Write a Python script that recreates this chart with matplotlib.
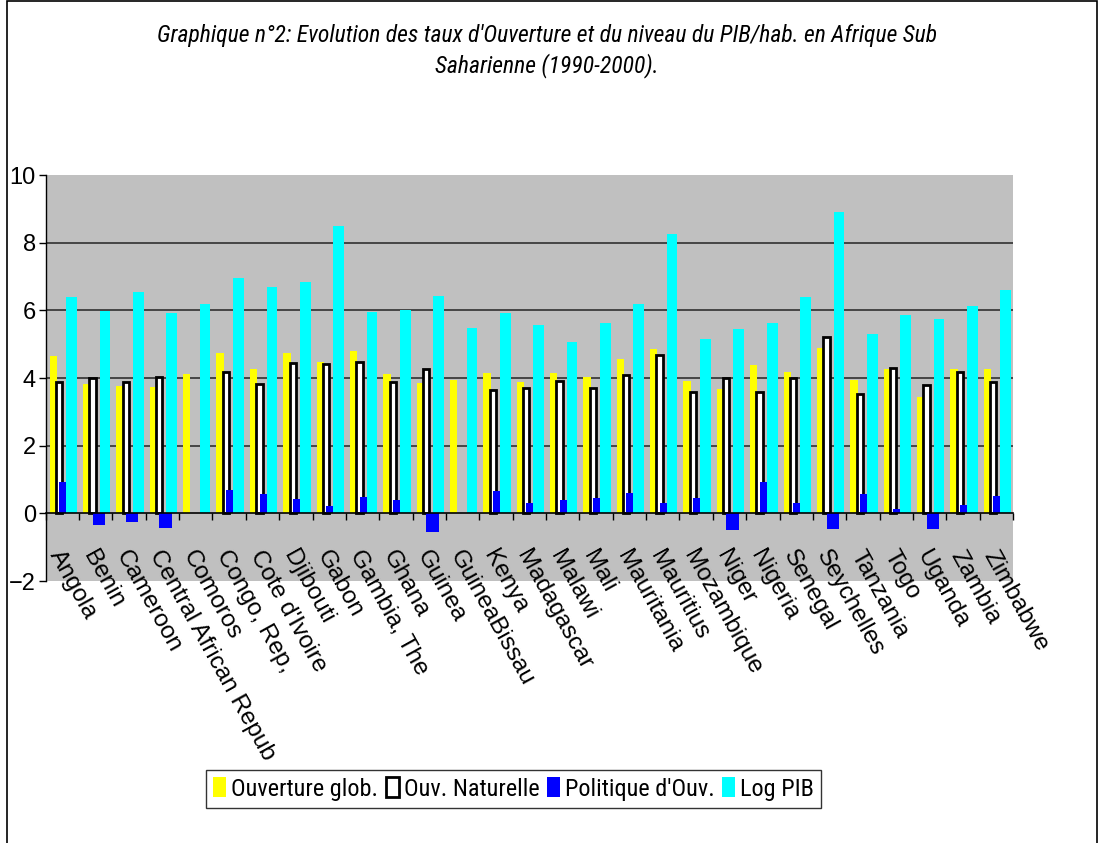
import numpy as np
import matplotlib
matplotlib.use("Agg")
import matplotlib.pyplot as plt
from matplotlib import font_manager
from matplotlib.patches import Rectangle
import matplotlib.transforms as mtransforms

categories = ["Angola", "Benin", "Cameroon", "Central African Repub", "Comoros",
              "Congo, Rep,", "Cote d'Ivoire", "Djibouti", "Gabon", "Gambia, The",
              "Ghana", "Guinea", "GuineaBissau", "Kenya", "Madagascar", "Malawi",
              "Mali", "Mauritania", "Mauritius", "Mozambique", "Niger", "Nigeria",
              "Senegal", "Seychelles", "Tanzania", "Togo", "Uganda", "Zambia",
              "Zimbabwe"]
nan = np.nan
ouverture_glob = [4.66, 3.81, 3.75, 3.73, 4.13, 4.75, 4.28, 4.73, 4.48, 4.81,
                  4.13, 3.86, 3.94, 4.16, 3.87, 4.16, 4.03, 4.57, 4.87, 3.92,
                  3.67, 4.39, 4.19, 4.88, 3.94, 4.26, 3.45, 4.28, 4.26]
ouv_naturelle = [3.87, 4.00, 3.87, 4.02, nan, 4.19, 3.83, 4.45, 4.41, 4.46,
                 3.87, 4.27, nan, 3.64, 3.71, 3.92, 3.70, 4.10, 4.68, 3.60,
                 3.99, 3.58, 3.99, 5.20, 3.52, 4.29, 3.78, 4.17, 3.87]
politique_ouv = [0.92, -0.35, -0.26, -0.43, nan, 0.68, 0.56, 0.41, 0.21, 0.47,
                 0.38, -0.55, nan, 0.65, 0.32, 0.38, 0.46, 0.59, 0.30, 0.45,
                 -0.49, 0.94, 0.32, -0.46, 0.56, 0.12, -0.46, 0.24, 0.50]
log_pib = [6.38, 5.99, 6.55, 5.91, 6.20, 6.95, 6.68, 6.83, 8.49, 5.96,
           6.02, 6.42, 5.49, 5.91, 5.58, 5.07, 5.63, 6.20, 8.26, 5.15,
           5.44, 5.63, 6.40, 8.92, 5.29, 5.87, 5.75, 6.13, 6.60]
series_names = ["Ouverture glob.", "Ouv. Naturelle", "Politique d'Ouv.", "Log PIB"]
yticks = [-2, 0, 2, 4, 6, 8, 10]
title = ("Graphique n°2: Evolution des taux d'Ouverture et du niveau du PIB/hab. en Afrique Sub\n"
         "Saharienne (1990-2000).")

# look for a narrow / condensed sans face (Arial Narrow look-alike)
entries = font_manager.fontManager.ttflist
narrow_fam = None
narrow_stretch = "normal"
for pref in ["Liberation Sans Narrow", "Arial Narrow", "Roboto Condensed",
             "Open Sans Condensed", "DejaVu Sans Condensed", "Noto Sans Condensed"]:
    if any(f.name == pref for f in entries):
        narrow_fam = pref
        break
if narrow_fam is None:
    for f in entries:
        if "Narrow" in f.name or "Condensed" in f.name:
            narrow_fam = f.name
            break
if narrow_fam is None:
    for f in entries:
        st = str(f.stretch)
        if st in ("condensed", "semi-condensed", "extra-condensed") or st.isdigit() and int(st) < 500:
            narrow_fam = f.name
            narrow_stretch = "condensed"
            break
found_narrow = narrow_fam is not None
narrow = [narrow_fam, "Liberation Sans", "DejaVu Sans"] if found_narrow else ["Liberation Sans", "DejaVu Sans"]

plt.rcParams["font.family"] = ["Liberation Sans", "DejaVu Sans"]

W, H = 1104, 843
fig = plt.figure(figsize=(W / 100, H / 100), dpi=100)
ax = fig.add_axes([45.7 / W, 1 - 581 / H, (1013 - 45.7) / W, (581 - 175) / H])
ax.set_facecolor("#c0c0c0")

x = np.arange(len(categories))
ax.bar(x + 0.12, ouverture_glob, width=0.22, align="edge", color="#ffff00", zorder=2,
       label=series_names[0])
ax.bar(x + 0.31, ouv_naturelle, width=0.19, align="edge", color="white",
       edgecolor="black", linewidth=2.0, zorder=3, label=series_names[1])
ax.bar(x + 0.41, politique_ouv, width=0.37, align="edge", color="#0000ff", zorder=4,
       label=series_names[2])
ax.bar(x + 0.62, log_pib, width=0.32, align="edge", color="#00ffff", zorder=5,
       label=series_names[3])

ax.set_xlim(0, len(categories))
ax.set_ylim(-2, 10)
ax.set_yticks(yticks)
for g in [2, 4, 6, 8]:
    ax.axhline(g, color="#303030", linewidth=1.2, zorder=1)

for s in ["top", "right"]:
    ax.spines[s].set_visible(False)
ax.spines["bottom"].set_position(("data", 0))
ax.spines["bottom"].set_zorder(6)
ax.spines["bottom"].set_linewidth(1.2)
ax.spines["left"].set_linewidth(1.0)

ax.set_xticks(x + 0.5)
ax.set_xticks(np.arange(len(categories) + 1), minor=True)
ax.set_xticklabels(categories)
ax.tick_params(axis="x", which="major", length=0, pad=24, labelsize=17.5)
ax.tick_params(axis="x", which="minor", length=5, width=1, direction="out")
ax.tick_params(axis="y", length=5, width=1, direction="out", labelsize=17, pad=2)
offset = mtransforms.ScaledTranslation(2 / 100, 0, fig.dpi_scale_trans)
for lab in ax.get_xticklabels():
    lab.set_rotation(-61)
    lab.set_ha("left")
    lab.set_va("top")
    lab.set_rotation_mode("anchor")
    lab.set_transform(lab.get_transform() + offset)

title_size = 17 if found_narrow else 14
fig.text(547 / W, 1 - 51 / H, title, ha="center", va="center", fontsize=title_size,
         style="italic", family=narrow, stretch=narrow_stretch, linespacing=1.3)

leg_size = 17.5 if found_narrow else 15
leg = fig.legend(loc="center", bbox_to_anchor=(513.5 / W, 1 - 789 / H), ncol=4,
                 frameon=True, fancybox=False, edgecolor="black", handlelength=0.55,
                 handleheight=0.9, handletextpad=0.2, columnspacing=0.3,
                 borderpad=0.3, borderaxespad=0.0,
                 prop=font_manager.FontProperties(family=narrow, size=leg_size,
                                                  stretch=narrow_stretch))
leg.get_frame().set_linewidth(1.0)

fig.patches.append(Rectangle((6.5 / W, -0.1), (1097 - 6.5) / W, 1.1 - 1.5 / H,
                             transform=fig.transFigure, fill=False,
                             edgecolor="black", linewidth=1.2))

fig.savefig("out.png", dpi=100)
